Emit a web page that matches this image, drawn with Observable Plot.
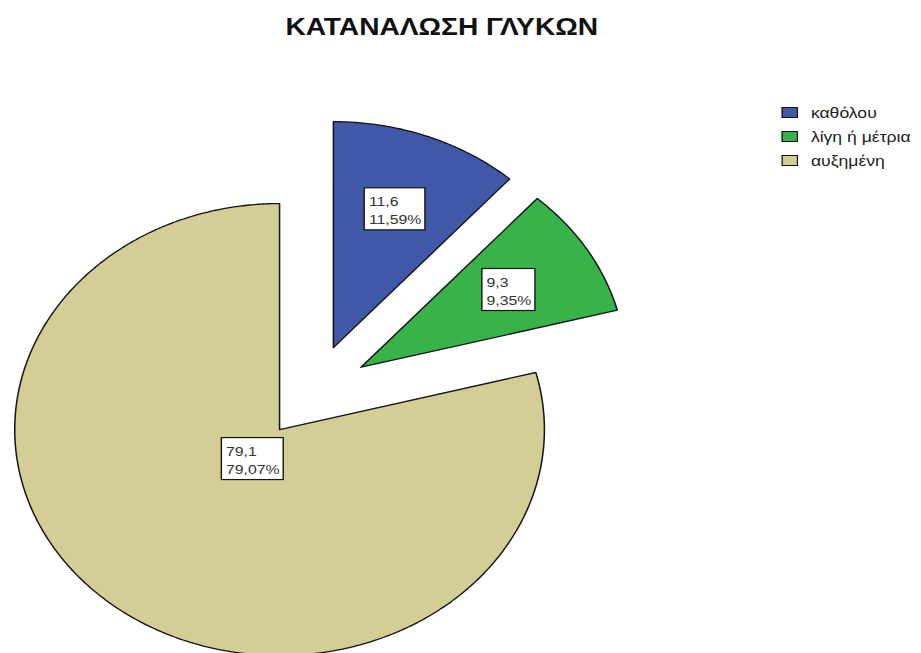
<!DOCTYPE html>
<html><head><meta charset="utf-8">
<script src="https://cdn.jsdelivr.net/npm/d3@7"></script>
<script src="https://cdn.jsdelivr.net/npm/@observablehq/plot@0.6"></script>
<style>
html,body{margin:0;padding:0;background:#fff;}
body{width:921px;height:653px;overflow:hidden;}
#wrap{position:relative;width:786px;height:653px;transform:scaleX(1.1718);transform-origin:0 0;font-family:"Liberation Sans",Arial,sans-serif;}
#chart{position:absolute;left:0;top:0;}
#title{position:absolute;left:0;top:15px;width:754px;text-align:center;font-weight:bold;font-size:24px;line-height:24px;color:#111;}
#legend{position:absolute;left:667px;top:100.5px;}
.row{display:flex;align-items:center;height:24px;}
.sw{width:14px;height:11.5px;border:1px solid #111;box-sizing:border-box;margin-right:11px;flex:none;}
.lt{font-size:15px;color:#222;white-space:nowrap;line-height:16px;}
</style></head><body>
<div id="wrap"><div id="chart"></div><div id="title"></div><div id="legend"></div></div>
<script>
const chartTitle = "ΚΑΤΑΝΑΛΩΣΗ ΓΛΥΚΩΝ";
const categories = ["καθόλου", "λίγη ή μέτρια", "αυξημένη"];
const values = [11.6, 9.3, 79.1];
const percents = [11.59, 9.35, 79.07];
const palette = ["#4158A8", "#37B34A", "#D4CE96"];

const W = 786, H = 653, R = 226, CX = 267.1, CY = 391.5;
const EXPLODE = 0.21, PAD = 3.5, FS = 13.5, LH = 18;
const fmt = (v, d) => v.toFixed(d).replace(".", ",");

const ctx = document.createElement("canvas").getContext("2d");
ctx.font = `${FS}px "Liberation Sans"`;

const total = d3.sum(percents);
let acc = 0;
const slices = categories.map((c, i) => {
  const a0 = acc / total * 2 * Math.PI; acc += percents[i];
  const a1 = acc / total * 2 * Math.PI;
  const m = (a0 + a1) / 2;
  const ox = EXPLODE * Math.sin(m), oy = EXPLODE * Math.cos(m);
  const pts = [[ox, oy]];
  const n = Math.max(2, Math.ceil((a1 - a0) / (Math.PI / 360)));
  for (let k = 0; k <= n; k++) {
    const t = a0 + (a1 - a0) * k / n;
    pts.push([ox + Math.sin(t), oy + Math.cos(t)]);
  }
  pts.push([ox, oy]);
  const lr = percents[i] > 50 ? 0.165 : 0.655;
  const lx = ox + lr * Math.sin(m), ly = oy + lr * Math.cos(m);
  const lines = [fmt(values[i], 1), fmt(percents[i], 2) + "%"];
  const tw = d3.max(lines, s => ctx.measureText(s).width);
  const bw = (tw + 2 * PAD) / R, bh = (2 * LH + 6) / R;
  return {c, i, pts, lx, ly, text: lines.join("\n"),
    x1: lx - bw / 2, x2: lx + bw / 2, y1: ly - bh / 2, y2: ly + bh / 2};
});

const plot = Plot.plot({
  width: W, height: H, margin: 0,
  x: {domain: [-CX / R, (W - CX) / R], range: [0, W], axis: null},
  y: {domain: [-(H - CY) / R, CY / R], range: [H, 0], axis: null},
  style: {background: "transparent", overflow: "visible"},
  marks: [
    ...slices.map(s => Plot.line(s.pts, {x: d => d[0], y: d => d[1], fill: palette[s.i],
      stroke: "#151515", strokeWidth: 1.3, strokeLinejoin: "round", curve: "linear"})),
    Plot.rect(slices, {x1: "x1", x2: "x2", y1: "y1", y2: "y2", fill: "white", stroke: "#151515", strokeWidth: 1.2}),
    Plot.text(slices, {x: d => d.x1 + PAD / R, y: "ly", text: "text", textAnchor: "start",
      lineAnchor: "middle", lineHeight: LH / FS, fontSize: FS, fill: "#333",
      fontFamily: "Liberation Sans"})
  ]
});
document.getElementById("chart").appendChild(plot);
document.getElementById("title").textContent = chartTitle;
const leg = document.getElementById("legend");
categories.forEach((c, i) => {
  const row = document.createElement("div"); row.className = "row";
  const sw = document.createElement("div"); sw.className = "sw"; sw.style.background = palette[i];
  const t = document.createElement("div"); t.className = "lt"; t.textContent = c;
  row.appendChild(sw); row.appendChild(t); leg.appendChild(row);
});
</script>
</body></html>
